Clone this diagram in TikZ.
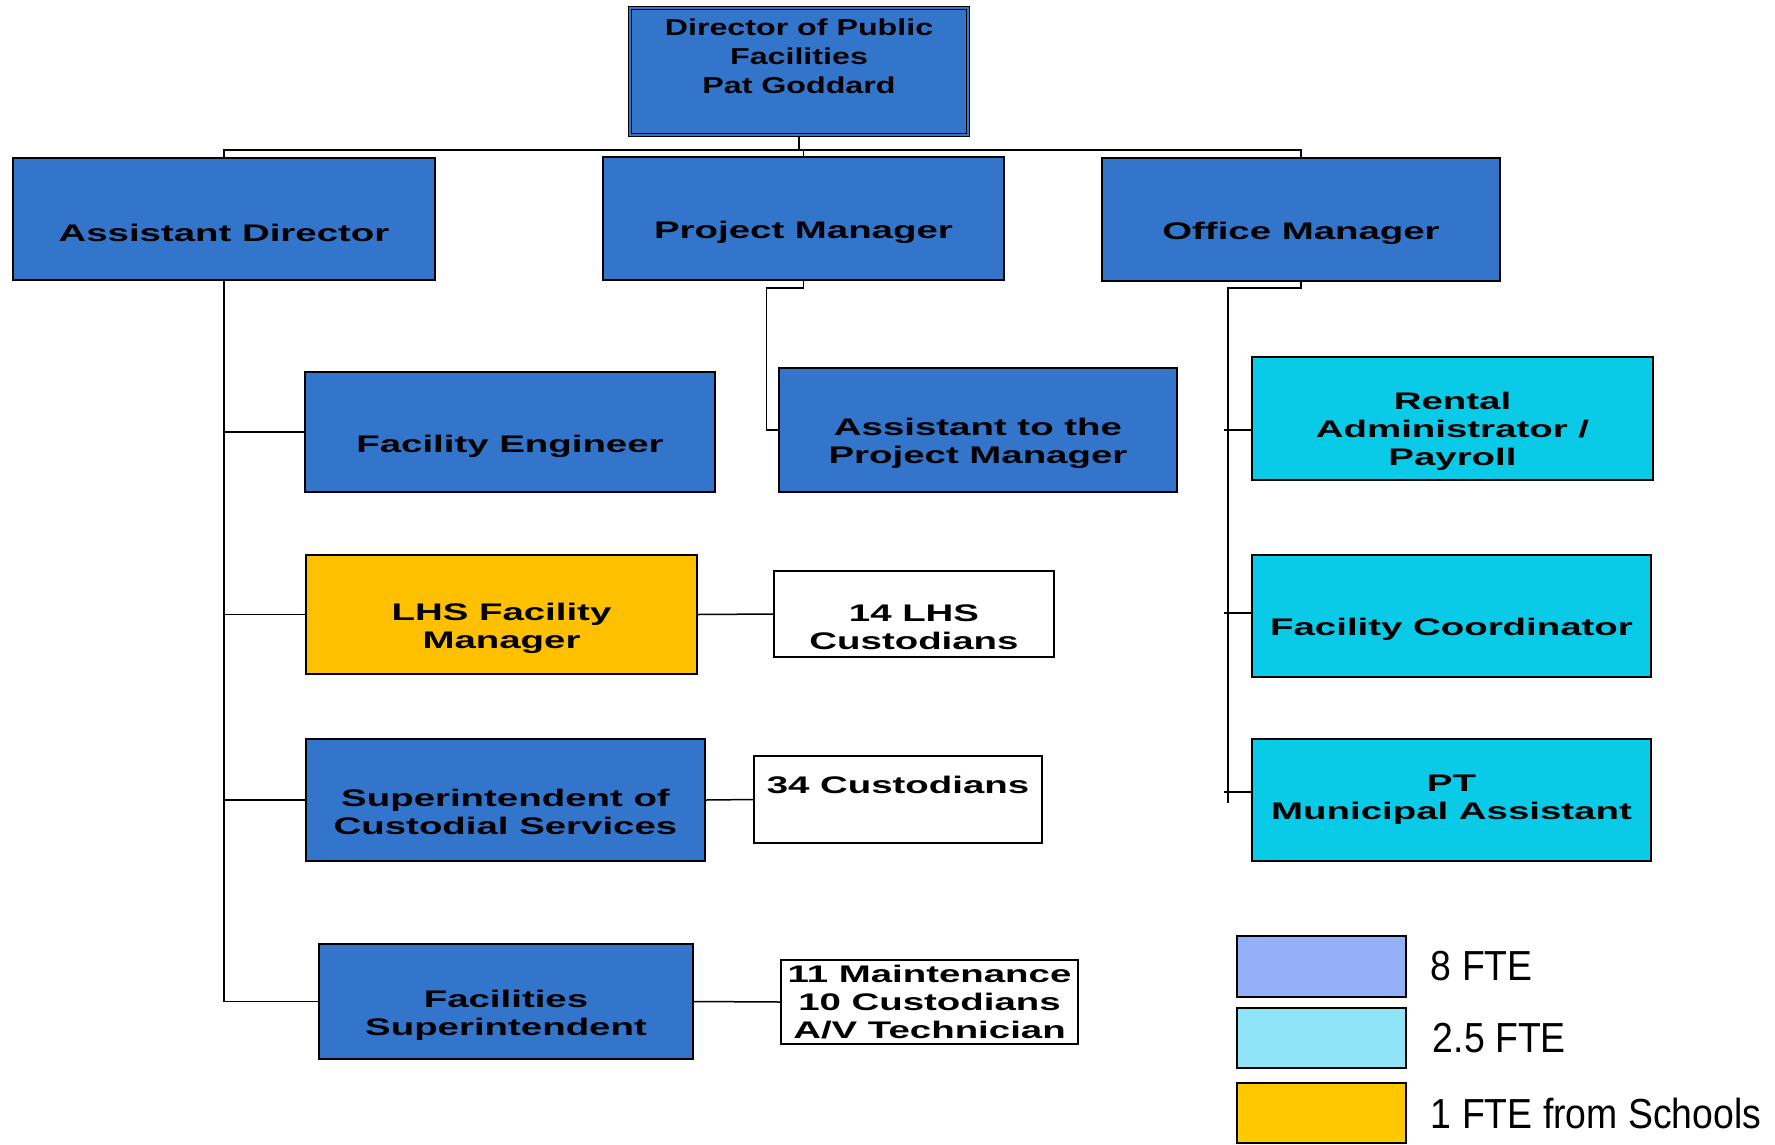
\documentclass[tikz,border=0pt]{standalone}
\usepackage{fontspec}
\usepackage{tikz}
\newfontfamily\boxfont{Liberation Sans}[FakeStretch=1.6]
\newfontfamily\dirfont{Liberation Sans}[FakeStretch=1.4]
\newfontfamily\keyfont{Liberation Sans}[FakeStretch=0.89]
\definecolor{amtblau}{RGB}{52,117,204}
\definecolor{amttuerkis}{RGB}{9,203,232}
\definecolor{amtgold}{RGB}{255,192,0}
\definecolor{keyblau}{RGB}{148,176,248}
\definecolor{keytuerkis}{RGB}{144,228,248}
\definecolor{keygold}{RGB}{255,200,0}

\begin{document}
\begin{tikzpicture}[x=1pt,y=-1pt,
  kasten/.style={draw=black,line width=1.5pt,inner sep=0pt},
  masz/.style 2 args={minimum width=#1pt,minimum height=#2pt},
  stelle/.style={kasten,fill=amtblau},
  teil/.style={kasten,fill=amttuerkis},
  schule/.style={kasten,fill=amtgold},
  gruppe/.style={kasten,fill=white},
  schrift/.style={font=\boxfont\bfseries\fontsize{24}{28}\selectfont,align=center,inner sep=0pt},
  legende/.style={font=\keyfont\fontsize{42}{50}\selectfont,anchor=west,inner sep=0pt},
  linie/.style={line width=1.5pt,black}]
  \useasboundingbox (0,0) rectangle (1775,1144);
  % boxes
  \node[stelle,double=amtblau,double distance=1.5pt,line width=1pt,masz={338}{127}] (dir) at (799,71.5) {};
  \node[stelle,masz={422}{122}] (ad) at (224,219) {};
  \node[stelle,masz={401}{123}] (pm) at (803.5,218.5) {};
  \node[stelle,masz={398}{123}] (om) at (1301,219.5) {};
  \node[stelle,masz={410}{120}] (fe) at (510,432) {};
  \node[stelle,masz={398}{124}] (atpm) at (978,430) {};
  \node[schule,masz={391}{119}] (lhs) at (501.5,614.5) {};
  \node[stelle,masz={399}{122}] (scs) at (505.5,800) {};
  \node[stelle,masz={374}{115}] (fs) at (506,1001.5) {};
  \node[gruppe,masz={280}{86}] (c14) at (914,614) {};
  \node[gruppe,masz={288}{87}] (c34) at (898,799.5) {};
  \node[gruppe,masz={297}{84}] (maint) at (929.5,1002) {};
  \node[teil,masz={401}{123}] (rent) at (1452.5,418.5) {};
  \node[teil,masz={399}{122}] (fc) at (1451.5,616) {};
  \node[teil,masz={399}{122}] (pma) at (1451.5,800) {};
  % texts
  \node[schrift,font=\dirfont\bfseries\fontsize{23}{29}\selectfont,yshift=15pt] (dirT) at (dir) {Director of Public\\Facilities\\Pat Goddard};
  \node[schrift,yshift=-14pt] (adT) at (ad) {Assistant Director};
  \node[schrift,yshift=-14pt] (pmT) at (pm) {Project Manager};
  \node[schrift,yshift=-14pt] (omT) at (om) {Office Manager};
  \node[schrift,yshift=-14pt] (feT) at (fe) {Facility Engineer};
  \node[schrift,yshift=-13pt] (atpmT) at (atpm) {Assistant to the\\Project Manager};
  \node[schrift,yshift=-14pt] (lhsT) at (lhs) {LHS Facility\\Manager};
  \node[schrift,yshift=-12pt] (scsT) at (scs) {Superintendent of\\Custodial Services};
  \node[schrift,yshift=-14pt] (fsT) at (fs) {Facilities\\Superintendent};
  \node[schrift,yshift=-13pt] (c14T) at (c14) {14 LHS\\Custodians};
  \node[schrift,yshift=15pt] (c34T) at (c34) {34 Custodians};
  \node[schrift] (maintT) at (maint) {11 Maintenance\\10 Custodians\\A/V Technician};
  \node[schrift,yshift=-13pt] (rentT) at (rent) {Rental\\Administrator /\\Payroll};
  \node[schrift,yshift=-13pt] (fcT) at (fc) {Facility Coordinator};
  \node[schrift] (pmaT) at (pma) {PT\\Municipal Assistant};
  % connectors
  \coordinate (bus) at (799,150);
  \coordinate (omende) at (1228,803);
  \draw[linie] (ad.north) -- (ad.north |- bus) -| (om.north);
  \draw[linie] (dir.south) -- (dir.south |- bus);
  \draw[linie] (pm.north) -- (pm.north |- bus);
  \draw[linie] (ad.south) |- (fs.west);
  \foreach \n in {fe,lhs,scs}
    \draw[linie] (\n.west) -- (\n.west -| ad.south);
  \draw[linie] (lhs.east) -- (c14.west);
  \draw[linie] (scs.east) -- (c34.west);
  \draw[linie] (fs.east) -- (maint.west);
  \draw[linie] (pm.south) -- ++(0,7) -| ([xshift=-12pt]atpm.west) -- (atpm.west);
  \draw[linie] (om.south) -- ++(0,6) -| (omende);
  \foreach \n/\s in {rent/-11.5,fc/3,pma/8}
    \draw[linie] ([yshift=\s pt]\n.west) -- ++(-27,0);
  % legend
  \node[kasten,fill=keyblau,masz={169}{61}] (k1) at (1321.5,966.5) {};
  \node[kasten,fill=keytuerkis,masz={169}{60}] (k2) at (1321.5,1038) {};
  \node[kasten,fill=keygold,masz={169}{60}] (k3) at (1321.5,1113) {};
  \node[legende] (k1T) at ([xshift=24pt]k1.east) {8 FTE};
  \node[legende] (k2T) at ([xshift=26pt]k2.east) {2.5 FTE};
  \node[legende] (k3T) at ([xshift=24pt]k3.east) {1 FTE from Schools};
\end{tikzpicture}
\end{document}
